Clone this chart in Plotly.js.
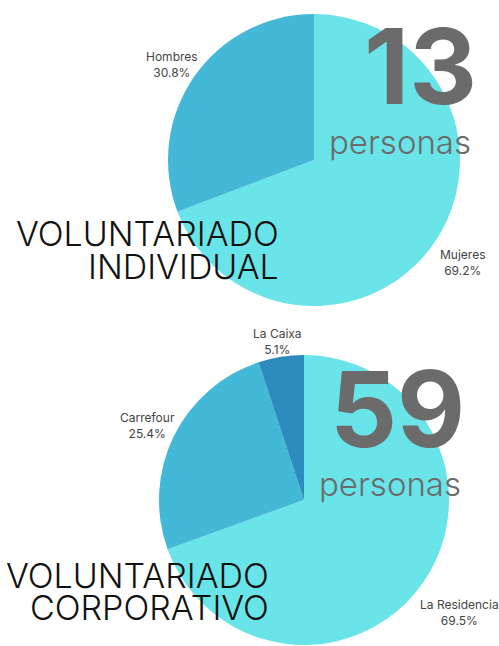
<!DOCTYPE html>
<html><head><meta charset="utf-8">
<script src="https://cdn.plot.ly/plotly-3.0.1.min.js"></script>
<style>html,body{margin:0;padding:0;background:#fff}#c{width:499px;height:646px}</style>
</head><body><div id="c"></div>
<script>
const indLabels = ["Mujeres", "Hombres"];
const indValues = [9, 4];
const indColors = ["#69e4e8", "#43b8d7"];
const corpLabels = ["La Residencia", "Carrefour", "La Caixa"];
const corpValues = [41, 15, 3];
const corpColors = ["#69e4e8", "#43b8d7", "#2d8bbd"];
const indTotal = "13", corpTotal = "59";

const FONT = "Inter, 'Open Sans', sans-serif";
const common = {type:"pie", sort:false, direction:"clockwise", rotation:0,
  textinfo:"none", showlegend:false, hoverinfo:"none"};
const data = [
  Object.assign({}, common, {labels:indLabels, values:indValues, marker:{colors:indColors, line:{width:0}},
    domain:{x:[168/499, 460/499], y:[1-306/646, 1-14/646]}}),
  Object.assign({}, common, {labels:corpLabels, values:corpValues, marker:{colors:corpColors, line:{width:0}},
    domain:{x:[158/499, 450/499], y:[1-645/646, 1-355/646]}})
];
function ann(text, x, y, size, color, weight, xanchor){
  return {text:text, xref:"paper", yref:"paper", x:x/499, y:1-y/646, xanchor:xanchor||"center", yanchor:"middle",
    showarrow:false, font:{family:FONT, size:size, color:color, weight:weight||400}};
}
function sliceLabels(labels, values, pos){
  const tot = values.reduce((a,b)=>a+b,0);
  return labels.map((l,i)=>{
    const a = ann(l + "<br>" + (100*values[i]/tot).toFixed(1) + "%", pos[i][0], pos[i][1], 12, "#444", 400);
    a.align = "center";
    return a;
  });
}
const indPos = [[463, 262], [172, 64]];
const corpPos = [[459, 612], [147, 426], [277, 341]];
const layout = {width:499, height:646, margin:{l:0,r:0,t:0,b:0}, paper_bgcolor:"#fff",
  annotations:[
    ann(indTotal, 420, 66, 105, "#6b6b6b", 700),
    ann("personas", 400, 142, 33, "#6b6b6b", 300),
    ann("VOLUNTARIADO", 281, 234, 34, "#111", 300, "right"),
    ann("INDIVIDUAL", 281, 266, 34, "#111", 300, "right"),
    ann(corpTotal, 397, 408, 105, "#6b6b6b", 700),
    ann("personas", 390, 484, 33, "#6b6b6b", 300),
    ann("VOLUNTARIADO", 271, 575, 34, "#111", 300, "right"),
    ann("CORPORATIVO", 271, 607, 34, "#111", 300, "right")
  ].concat(sliceLabels(indLabels, indValues, indPos), sliceLabels(corpLabels, corpValues, corpPos))};
Plotly.newPlot("c", data, layout, {displayModeBar:false, staticPlot:true});
</script></body></html>
